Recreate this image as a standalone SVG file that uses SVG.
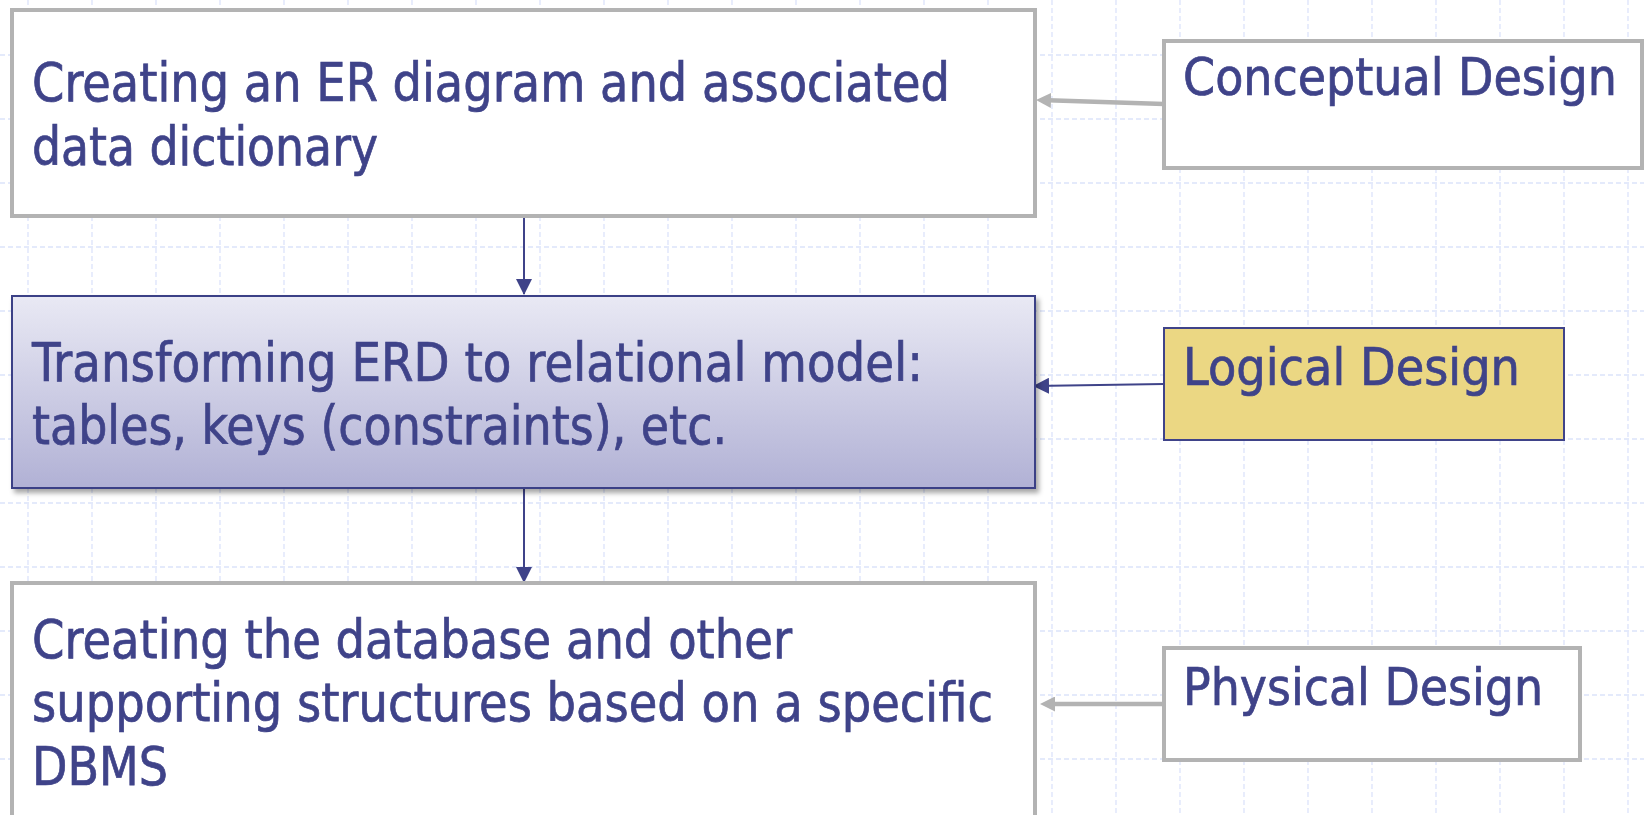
<svg xmlns="http://www.w3.org/2000/svg" width="1644" height="815" viewBox="0 0 1644 815">
<defs>
<style>
.grid{stroke:#dce3fa;stroke-width:1.3;stroke-dasharray:5 3;fill:none}
.gbox{fill:#ffffff;stroke:#b3b3b3;stroke-width:4}
.t{font-family:"DejaVu Sans Condensed","DejaVu Sans",sans-serif;font-size:54px;fill:#3f4389;stroke:#3f4389;stroke-width:0.7}
.tr{font-family:"DejaVu Sans Condensed","DejaVu Sans",sans-serif;font-size:52px;fill:#3f4389;stroke:#3f4389;stroke-width:0.7}
.blue{stroke:#3f4389;stroke-width:2;fill:none}
.gray{stroke:#b3b3b3;stroke-width:4.5;fill:none}
</style>
<linearGradient id="g2" x1="0" y1="0" x2="0" y2="1">
<stop offset="0" stop-color="#e9e9f4"/>
<stop offset="1" stop-color="#b1b1d5"/>
</linearGradient>
<filter id="sh" x="-5%" y="-10%" width="110%" height="130%">
<feDropShadow dx="3" dy="4" stdDeviation="2.5" flood-color="#000" flood-opacity="0.35"/>
</filter>
<marker id="ab" markerUnits="userSpaceOnUse" markerWidth="16" markerHeight="16" viewBox="0 0 16 16" refX="15" refY="8" orient="auto">
<path d="M0,0 L16,8 L0,16 z" fill="#3f4389"/>
</marker>
<marker id="ag" markerUnits="userSpaceOnUse" markerWidth="15" markerHeight="15" viewBox="0 0 15 15" refX="3" refY="7.5" orient="auto">
<path d="M0,0 L15,7.5 L0,15 z" fill="#b3b3b3"/>
</marker>
</defs>
<rect width="1644" height="815" fill="#ffffff"/>
<path class="grid" d="M28,0V815M92,0V815M156,0V815M220,0V815M284,0V815M348,0V815M412,0V815M476,0V815M540,0V815M604,0V815M668,0V815M732,0V815M796,0V815M860,0V815M924,0V815M988,0V815M1052,0V815M1116,0V815M1180,0V815M1244,0V815M1308,0V815M1372,0V815M1436,0V815M1500,0V815M1564,0V815M1628,0V815M0,55H1644M0,119H1644M0,183H1644M0,247H1644M0,311H1644M0,375H1644M0,439H1644M0,503H1644M0,567H1644M0,631H1644M0,695H1644M0,759H1644"/>

<g id="connectors">
<line class="gray" x1="1164" y1="104" x2="1048" y2="100.3" marker-end="url(#ag)"/>
<line class="blue" x1="524" y1="218" x2="524" y2="294" marker-end="url(#ab)"/>
<line class="blue" x1="1164" y1="384" x2="1034" y2="386" marker-end="url(#ab)"/>
<line class="blue" x1="524" y1="489" x2="524" y2="582" marker-end="url(#ab)"/>
<line class="gray" x1="1164" y1="704" x2="1052" y2="704" marker-end="url(#ag)"/>
</g>

<g id="er-diagram">
<rect class="gbox" x="12" y="10" width="1023" height="206"/>
<text class="t" x="32" y="101" textLength="918" lengthAdjust="spacingAndGlyphs">Creating an ER diagram and associated</text>
<text class="t" x="32" y="165" textLength="346" lengthAdjust="spacingAndGlyphs">data dictionary</text>
</g>

<g id="relational-model">
<rect x="12" y="296" width="1023" height="192" fill="url(#g2)" stroke="#3b3f86" stroke-width="2" filter="url(#sh)"/>
<text class="t" x="32" y="381" textLength="891" lengthAdjust="spacingAndGlyphs">Transforming ERD to relational model:</text>
<text class="t" x="32" y="444" textLength="695" lengthAdjust="spacingAndGlyphs">tables, keys (constraints), etc.</text>
</g>

<g id="database">
<rect class="gbox" x="12" y="583" width="1023" height="260"/>
<text class="t" x="32" y="658" textLength="760" lengthAdjust="spacingAndGlyphs">Creating the database and other</text>
<text class="t" x="32" y="721" textLength="961" lengthAdjust="spacingAndGlyphs">supporting structures based on a specific</text>
<text class="t" x="32" y="785" textLength="136" lengthAdjust="spacingAndGlyphs">DBMS</text>
</g>

<g id="conceptual">
<rect class="gbox" x="1164" y="41" width="478" height="127"/>
<text class="tr" x="1183" y="95" textLength="434" lengthAdjust="spacingAndGlyphs">Conceptual Design</text>
</g>

<g id="logical">
<rect x="1164" y="328" width="400" height="112" fill="#ebd783" stroke="#3f4389" stroke-width="2"/>
<text class="tr" x="1183" y="385" textLength="337" lengthAdjust="spacingAndGlyphs">Logical Design</text>
</g>

<g id="physical">
<rect class="gbox" x="1164" y="648" width="416" height="112"/>
<text class="tr" x="1183" y="705" textLength="360" lengthAdjust="spacingAndGlyphs">Physical Design</text>
</g>
</svg>
